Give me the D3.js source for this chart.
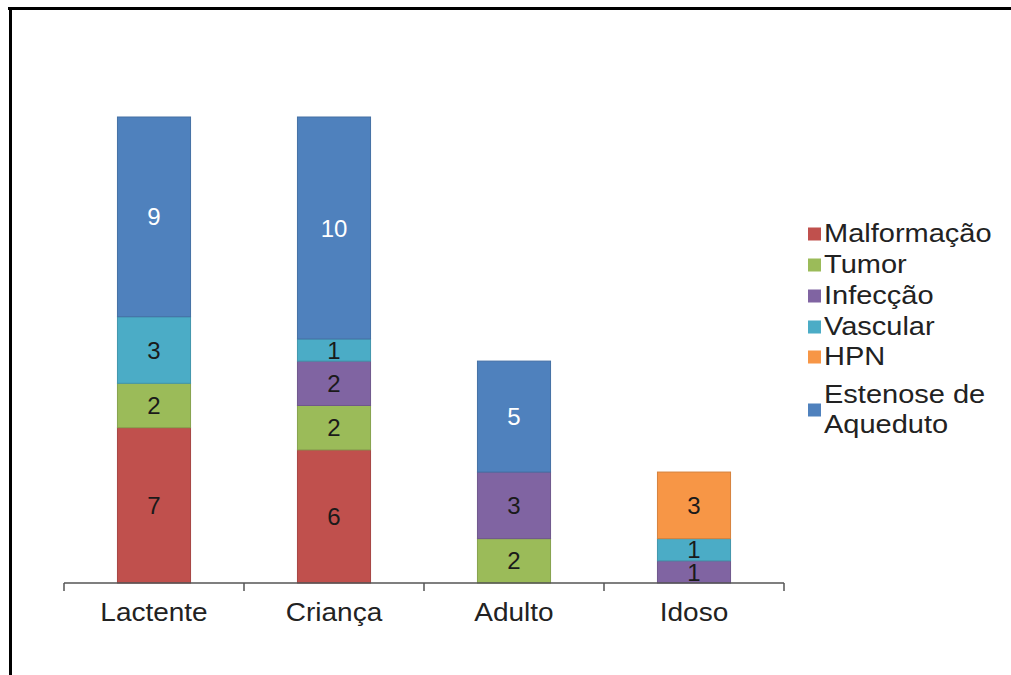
<!DOCTYPE html>
<html>
<head>
<meta charset="utf-8">
<script src="https://cdn.jsdelivr.net/npm/d3@7"></script>
<style>
html,body{margin:0;padding:0;background:#fff;}
svg{display:block;}
text{font-family:"Liberation Sans",Arial,sans-serif;}
</style>
</head>
<body>
<script>
const categories = ["Lactente", "Criança", "Adulto", "Idoso"];
const seriesNames = ["Malformação", "Tumor", "Infecção", "Vascular", "HPN", "Estenose de Aqueduto"];
const malformacao = [7, 6, 0, 0];
const tumor = [2, 2, 2, 0];
const infeccao = [0, 2, 3, 1];
const vascular = [3, 1, 0, 1];
const hpn = [0, 0, 0, 3];
const estenose = [9, 10, 5, 0];
const colors = ["#C0504D", "#9BBB59", "#8064A2", "#4BACC6", "#F79646", "#4F81BD"];
const labelColors = ["#1a1a1a", "#1a1a1a", "#1a1a1a", "#1a1a1a", "#1a1a1a", "#ffffff"];

const W = 1011, H = 675;
const svg = d3.select("body").append("svg").attr("width", W).attr("height", H);

// frame (top and left only)
svg.append("line").attr("x1", 8).attr("x2", W).attr("y1", 8.5).attr("y2", 8.5)
  .attr("stroke", "#000").attr("stroke-width", 3);
svg.append("line").attr("x1", 10.5).attr("x2", 10.5).attr("y1", 7).attr("y2", H)
  .attr("stroke", "#000").attr("stroke-width", 3);

const table = categories.map((c, i) => ({
  cat: c,
  "Malformação": malformacao[i],
  "Tumor": tumor[i],
  "Infecção": infeccao[i],
  "Vascular": vascular[i],
  "HPN": hpn[i],
  "Estenose de Aqueduto": estenose[i]
}));
const stacked = d3.stack().keys(seriesNames)(table);

const x = d3.scaleBand().domain(categories).range([64, 784]).paddingInner(0.594).paddingOuter(0.297);
const y = d3.scaleLinear().domain([0, 21]).range([583, 117]);

stacked.forEach((layer, si) => {
  const g = svg.append("g");
  layer.forEach((d, ci) => {
    const v = d[1] - d[0];
    if (v <= 0) return;
    const cat = categories[ci];
    g.append("rect")
      .attr("x", x(cat))
      .attr("y", y(d[1]))
      .attr("width", x.bandwidth())
      .attr("height", y(d[0]) - y(d[1]))
      .attr("fill", colors[si])
      .attr("stroke", d3.color(colors[si]).darker(0.4))
      .attr("stroke-width", 1);
    g.append("text")
      .attr("x", x(cat) + x.bandwidth() / 2)
      .attr("y", (y(d[0]) + y(d[1])) / 2)
      .attr("dy", "0.36em")
      .attr("text-anchor", "middle")
      .attr("font-size", 24)
      .attr("fill", labelColors[si])
      .text(v);
  });
});

// x axis
const axisY = 583;
svg.append("line").attr("x1", x.range()[0]).attr("x2", x.range()[1])
  .attr("y1", axisY).attr("y2", axisY).attr("stroke", "#555").attr("stroke-width", 1.5);
const tickXs = [x.range()[0]].concat(categories.map(c => x(c) + x.bandwidth() + (x.step() - x.bandwidth()) / 2));
tickXs.forEach(tx => {
  svg.append("line").attr("x1", tx).attr("x2", tx).attr("y1", axisY).attr("y2", axisY + 8)
    .attr("stroke", "#555").attr("stroke-width", 1.5);
});
categories.forEach(c => {
  svg.append("text")
    .attr("transform", `translate(${x(c) + x.bandwidth() / 2},621) scale(1.12,1)`)
    .attr("text-anchor", "middle")
    .attr("font-size", 25)
    .attr("fill", "#222")
    .text(c);
});

// legend
const legendRows = [
  {lines: ["Malformação"], base: 242, marker: 234},
  {lines: ["Tumor"], base: 273, marker: 265},
  {lines: ["Infecção"], base: 304, marker: 296},
  {lines: ["Vascular"], base: 335, marker: 327},
  {lines: ["HPN"], base: 365, marker: 357},
  {lines: ["Estenose de", "Aqueduto"], base: 403, marker: 410}
];
legendRows.forEach((r, i) => {
  svg.append("rect").attr("x", 808).attr("y", r.marker - 6.5).attr("width", 13).attr("height", 13)
    .attr("fill", colors[i]);
  r.lines.forEach((ln, k) => {
    svg.append("text")
      .attr("transform", `translate(824,${r.base + k * 30}) scale(1.16,1)`)
      .attr("font-size", 25)
      .attr("fill", "#222")
      .text(ln);
  });
});
</script>
</body>
</html>
